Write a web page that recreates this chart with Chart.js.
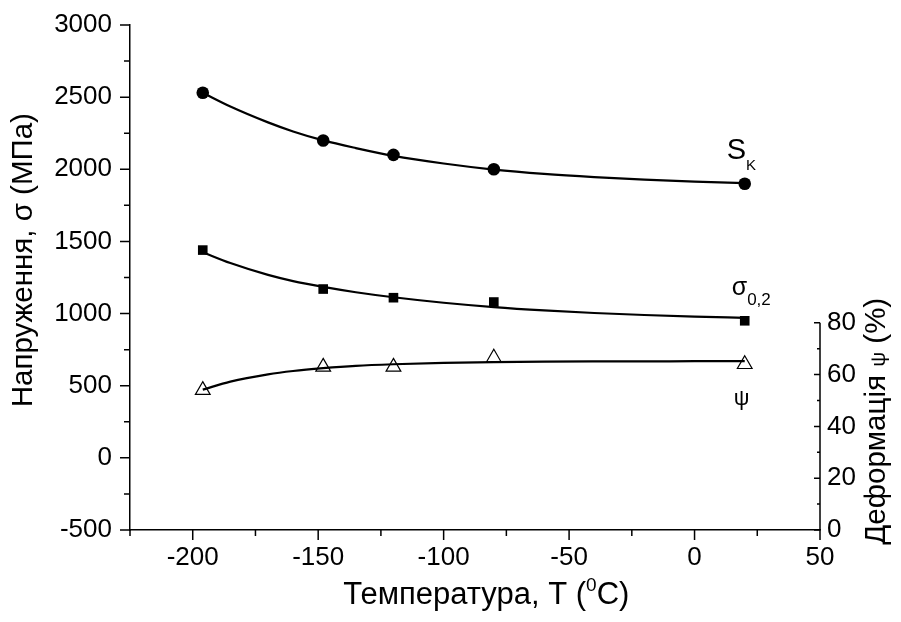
<!DOCTYPE html>
<html><head><meta charset="utf-8">
<script src="https://cdn.jsdelivr.net/npm/chart.js@4"></script>
<style>html,body{margin:0;padding:0;background:#fff}#wrap{width:901px;height:622px;position:relative}canvas{display:block}</style>
</head><body><div id="wrap"><canvas id="c" width="901" height="622" style="width:901px;height:622px"></canvas></div>
<script>
// measured points
const temps = [-196, -148, -120, -80, 20];
const sk = [2530, 2200, 2100, 2000, 1900];
const sigma02 = [1440, 1170, 1110, 1080, 950];
const psi = [54, 63, 63, 66.5, 64];
// fitted curves
const fitT = [-196, -185, -170, -160, -148, -135, -120, -100, -80, -60, -40, -20, 0, 20];
const skFit = [2530, 2435, 2325, 2262, 2200, 2147, 2093, 2040, 1998, 1968, 1946, 1929, 1915, 1904];
const sigmaFit = [1425, 1350, 1268, 1225, 1185, 1148, 1113, 1075, 1045, 1022, 1004, 990, 979, 970];
const psiFit = [54.2, 57.3, 60.1, 61.4, 62.5, 63.4, 64.0, 64.5, 64.8, 65.0, 65.1, 65.1, 65.2, 65.2];
// tick labels
const xTicks = [-200, -150, -100, -50, 0, 50];
const yTicks = [-500, 0, 500, 1000, 1500, 2000, 2500, 3000];
const y2Ticks = [0, 20, 40, 60, 80];

const FONT = '"Liberation Sans", Arial, sans-serif';
const pts = (xs, ys) => xs.map((x, i) => ({x, y: ys[i]}));
const mids = arr => arr.slice(1).map((v, i) => (v + arr[i]) / 2);

function drawRuns(ctx, runs, x, y, align) {
  let total = 0;
  runs.forEach(r => { ctx.font = r.size + 'px ' + FONT; r.w = ctx.measureText(r.text).width; total += r.w; });
  let cx = align === 'center' ? x - total / 2 : x;
  ctx.textBaseline = 'alphabetic';
  ctx.textAlign = 'left';
  runs.forEach(r => { ctx.font = r.size + 'px ' + FONT; ctx.fillText(r.text, cx, y + (r.dy || 0)); cx += r.w; });
}

const overlay = {
  id: 'overlay',
  afterDraw(chart) {
    const ctx = chart.ctx;
    const xs = chart.scales.x, ys = chart.scales.y, y2 = chart.scales.y2;
    const ca = chart.chartArea;
    ctx.save();
    ctx.strokeStyle = '#000';
    ctx.fillStyle = '#000';
    ctx.lineWidth = 1.5;
    // x ticks
    const xMinor = [xs.min].concat(mids(xTicks));
    ctx.beginPath();
    xTicks.forEach(v => { const p = xs.getPixelForValue(v); ctx.moveTo(p, ca.bottom); ctx.lineTo(p, ca.bottom + 10); });
    xMinor.forEach(v => { const p = xs.getPixelForValue(v); ctx.moveTo(p, ca.bottom); ctx.lineTo(p, ca.bottom + 6); });
    // y ticks
    yTicks.forEach(v => { const p = ys.getPixelForValue(v); ctx.moveTo(ca.left, p); ctx.lineTo(ca.left - 10, p); });
    mids(yTicks).forEach(v => { const p = ys.getPixelForValue(v); ctx.moveTo(ca.left, p); ctx.lineTo(ca.left - 6, p); });
    // right axis (partial)
    const r = ca.right;
    ctx.moveTo(r, y2.getPixelForValue(y2Ticks[0]));
    ctx.lineTo(r, y2.getPixelForValue(y2Ticks[y2Ticks.length - 1]));
    y2Ticks.forEach(v => { const p = y2.getPixelForValue(v); ctx.moveTo(r, p); ctx.lineTo(r - 6, p); });
    mids(y2Ticks).forEach(v => { const p = y2.getPixelForValue(v); ctx.moveTo(r, p); ctx.lineTo(r - 3, p); });
    ctx.stroke();

    // axis titles
    ctx.save();
    ctx.translate(32, ys.getPixelForValue(1370));
    ctx.rotate(-Math.PI / 2);
    drawRuns(ctx, [{text: 'Напруження, σ (МПа)', size: 29.5}], 0, 0, 'center');
    ctx.restore();

    drawRuns(ctx, [{text: 'Температура, T (', size: 31}, {text: '0', size: 19, dy: -13}, {text: 'C)', size: 31}],
      xs.getPixelForValue(-83), 604, 'center');

    ctx.save();
    ctx.translate(885, y2.getPixelForValue(42));
    ctx.rotate(-Math.PI / 2);
    drawRuns(ctx, [{text: 'Деформація ', size: 29.5}, {text: 'ψ', size: 21}, {text: ' (%)', size: 29.5}], 0, 0, 'center');
    ctx.restore();

    // curve labels
    const lx = xs.getPixelForValue(temps[temps.length - 1]);
    const skY = ys.getPixelForValue(sk[sk.length - 1]);
    drawRuns(ctx, [{text: 'S', size: 29}, {text: 'K', size: 15, dy: 11}], lx - 18, skY - 25, 'left');
    const sgY = ys.getPixelForValue(sigma02[sigma02.length - 1]);
    drawRuns(ctx, [{text: 'σ', size: 25}, {text: '0,2', size: 17, dy: 10}], lx - 13, sgY - 26, 'left');
    const psY = y2.getPixelForValue(psi[psi.length - 1]);
    drawRuns(ctx, [{text: 'ψ', size: 22}], lx - 11, psY + 41, 'left');
    ctx.restore();
  }
};

const fixedTicks = arr => s => { s.ticks = arr.map(v => ({value: v})); };
const plain = v => String(v);

new Chart(document.getElementById('c'), {
  data: {
    datasets: [
      {type: 'scatter', label: 'S_K', data: pts(temps, sk), yAxisID: 'y', pointStyle: 'circle', pointRadius: 6.3, pointHoverRadius: 6.3, backgroundColor: '#000', borderColor: '#000', borderWidth: 0, order: 0},
      {type: 'scatter', label: 'σ0,2', data: pts(temps, sigma02), yAxisID: 'y', pointStyle: 'rect', pointRadius: 6.8, pointHoverRadius: 6.8, backgroundColor: '#000', borderColor: '#000', borderWidth: 0, order: 0},
      {type: 'scatter', label: 'ψ', data: pts(temps, psi), yAxisID: 'y2', pointStyle: 'triangle', pointRadius: 8.5, pointHoverRadius: 8.5, backgroundColor: 'rgba(0,0,0,0)', borderColor: '#000', borderWidth: 1.2, order: 0},
      {type: 'line', label: 'S_K fit', data: pts(fitT, skFit), yAxisID: 'y', borderColor: '#000', borderWidth: 2.2, pointRadius: 0, cubicInterpolationMode: 'monotone', fill: false, order: 1},
      {type: 'line', label: 'σ fit', data: pts(fitT, sigmaFit), yAxisID: 'y', borderColor: '#000', borderWidth: 2.2, pointRadius: 0, cubicInterpolationMode: 'monotone', fill: false, order: 1},
      {type: 'line', label: 'ψ fit', data: pts(fitT, psiFit), yAxisID: 'y2', borderColor: '#000', borderWidth: 2.2, pointRadius: 0, cubicInterpolationMode: 'monotone', fill: false, order: 1}
    ]
  },
  options: {
    responsive: false,
    animation: false,
    devicePixelRatio: 1,
    layout: {padding: {top: 25, left: 0, right: 0, bottom: 0}},
    plugins: {legend: {display: false}, tooltip: {enabled: false}},
    scales: {
      x: {
        type: 'linear', position: 'bottom', min: -225, max: 50,
        afterBuildTicks: fixedTicks(xTicks),
        afterFit: s => { s.height = 92; s.paddingLeft = 0; s.paddingRight = 0; },
        grid: {display: false, drawTicks: false},
        border: {display: true, color: '#000', width: 1.5},
        ticks: {color: '#000', padding: 12, font: {family: FONT, size: 26}, maxRotation: 0, autoSkip: false, callback: plain}
      },
      y: {
        type: 'linear', position: 'left', min: -500, max: 3000,
        afterBuildTicks: fixedTicks(yTicks),
        afterFit: s => { s.width = 130; s.paddingTop = 0; s.paddingBottom = 0; },
        grid: {display: false, drawTicks: false},
        border: {display: true, color: '#000', width: 1.5},
        ticks: {color: '#000', padding: 18, font: {family: FONT, size: 26}, autoSkip: false, callback: plain}
      },
      y2: {
        type: 'linear', position: 'right', min: 0, max: 195,
        afterBuildTicks: fixedTicks(y2Ticks),
        afterFit: s => { s.width = 81; s.paddingTop = 0; s.paddingBottom = 0; },
        grid: {display: false, drawTicks: false},
        border: {display: false},
        ticks: {color: '#000', padding: 7, font: {family: FONT, size: 26}, autoSkip: false, callback: plain}
      }
    }
  },
  plugins: [overlay]
});
</script>
</body></html>
